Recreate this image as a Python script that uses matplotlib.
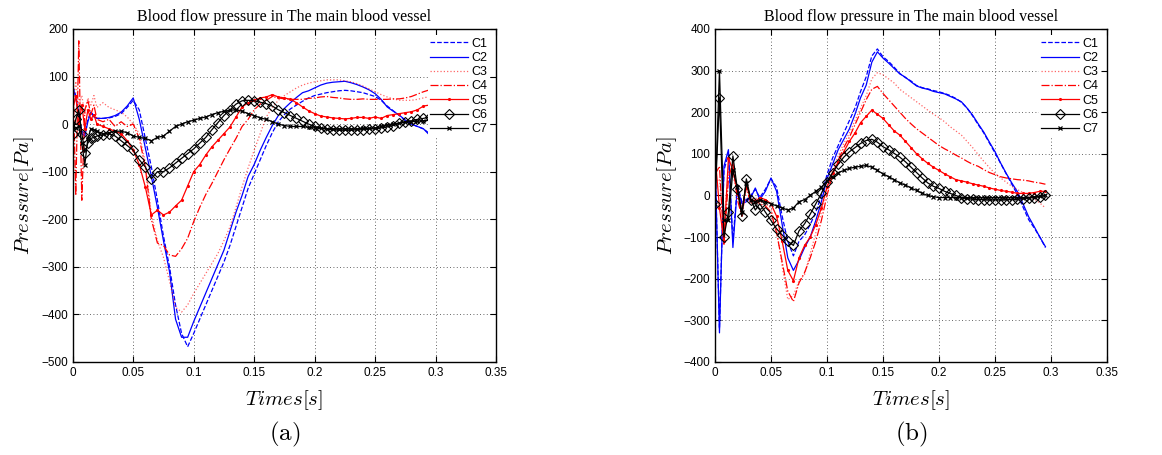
import matplotlib
matplotlib.use("Agg")
import matplotlib.pyplot as plt
import numpy as np
from matplotlib.ticker import FormatStrFormatter, MultipleLocator

# ---- panel (a) ----
t_a = np.r_[np.arange(0, 0.02, 0.0025), np.arange(0.02, 0.2951, 0.005)]

a_c1 = [80, 60, 20, -15, -20, 10, 25, 18,
        12, 12, 13, 16, 22, 35, 50, 30, -30, -90,
        -160, -235, -300, -380, -440, -468, -440, -410, -380, -350,
        -320, -290, -255, -215, -175, -135, -105, -75, -45, -18,
        5, 20, 32, 40, 48, 55, 60, 63, 66, 68,
        70, 71, 70, 68, 66, 62, 58, 50, 38, 28,
        18, 8, 0, -5, -10, -20]
a_c2 = [80, 55, 20, -20, -25, 5, 25, 15,
        12, 12, 14, 18, 25, 38, 55, 10, -50, -110,
        -175, -245, -310, -410, -448, -448, -415, -385, -355, -325,
        -295, -265, -225, -185, -150, -110, -85, -55, -28, -3,
        18, 33, 45, 56, 66, 70, 76, 82, 86, 88,
        89, 90, 87, 83, 78, 72, 64, 52, 36, 27,
        19, 8, 0, -5, -10, -23]
a_c3 = [30, 90, 40, 60, 20, 55, 40, 60,
        35, 45, 35, 30, 25, 15, 0, -20, -80, -190,
        -245, -280, -330, -385, -395, -380, -356, -335, -314, -293,
        -272, -245, -216, -175, -132, -92, -55, -20, 15, 35,
        50, 60, 68, 76, 82, 86, 89, 91, 93, 93,
        93, 91, 89, 85, 80, 74, 68, 62, 57, 53,
        50, 50, 50, 52, 55, 58]
a_c4 = [120, -150, 175, -160, 30, 50, 20, 40,
        10, 5, 10, -5, 5, -5, 0, -30, -90, -200,
        -250, -255, -275, -278, -262, -240, -205, -175, -148, -125,
        -100, -75, -52, -30, -5, 10, 30, 42, 50, 58,
        55, 53, 52, 52, 52, 54, 55, 57, 58, 56,
        55, 53, 52, 52, 53, 52, 52, 52, 52, 53,
        53, 55, 58, 63, 68, 72]
a_c5 = [30, 60, 0, 40, -10, 30, 10, 20,
        0, -5, -10, -15, -20, -35, -55, -85, -132, -191,
        -181, -191, -185, -172, -160, -130, -100, -85, -65, -48,
        -34, -20, -6, 15, 36, 45, 50, 55, 57, 62,
        57, 55, 52, 45, 36, 28, 22, 17, 15, 13,
        12, 11, 12, 14, 14, 12, 15, 12, 18, 20,
        22, 24, 26, 30, 38, 40]
a_c6 = [-20, 10, 30, -20, -60, -40, -30, -28,
        -25, -22, -20, -25, -35, -45, -55, -75, -90, -115,
        -100, -100, -92, -82, -72, -62, -52, -40, -28, -12,
        3, 18, 30, 42, 49, 50, 49, 46, 43, 38,
        30, 24, 18, 12, 6, 0, -5, -8, -10, -12,
        -13, -13, -13, -12, -12, -10, -10, -8, -6, -3,
        2, 5, 7, 10, 12, 15]
a_c7 = [-10, -8, -5, -40, -85, -30, -10, -12,
        -15, -20, -18, -15, -15, -18, -25, -28, -30, -35,
        -28, -25, -15, -5, 0, 5, 8, 12, 15, 20,
        24, 27, 29, 30, 27, 22, 18, 13, 10, 5,
        0, -3, -5, -5, -5, -7, -8, -9, -10, -10,
        -10, -10, -10, -10, -9, -9, -8, -5, -2, 0,
        2, 4, 5, 6, 7, 8]

# ---- panel (b) ----
t_b = np.r_[np.arange(0, 0.0401, 0.004), np.arange(0.045, 0.2951, 0.005)]

b_c1 = [90, -320, 60, 100, -110, 25, -15, -10, 0, 15, -5,
        15, 40, 20, -50, -110, -145, -110, -95, -70, -40,
        0, 50, 90, 120, 150, 180, 210, 250, 285, 335,
        352, 333, 322, 308, 293, 283, 275, 264, 259, 256,
        252, 249, 245, 240, 233, 224, 210, 191, 170, 150,
        126, 102, 77, 52, 27, 2, -28, -58, -78, -100,
        -125]
b_c2 = [100, -330, 70, 110, -125, 20, -20, -15, -5, 18, -10,
        10, 42, 10, -70, -150, -180, -155, -125, -100, -60,
        -15, 40, 75, 110, 135, 160, 195, 235, 265, 320,
        345, 330, 318, 305, 292, 284, 273, 263, 258, 255,
        250, 247, 244, 238, 232, 225, 210, 193, 172, 152,
        128, 105, 78, 53, 30, 9, -20, -51, -75, -100,
        -123]
b_c3 = [30, 40, -80, 60, 50, 0, -30, 20, -10, -5, -15,
        -20, -30, -80, -170, -250, -240, -205, -190, -140, -90,
        -40, 20, 60, 95, 125, 150, 180, 210, 240, 280,
        295, 290, 280, 270, 255, 245, 235, 225, 215, 205,
        195, 187, 177, 165, 155, 145, 130, 115, 98, 82,
        67, 53, 42, 32, 22, 14, 7, 0, -8, -18,
        -30]
b_c4 = [50, 70, -120, 40, 80, -10, -50, 20, -20, -10, -20,
        -25, -40, -90, -160, -230, -255, -210, -185, -150, -110,
        -60, 0, 50, 85, 115, 140, 170, 200, 230, 255,
        262, 245, 230, 215, 200, 185, 172, 160, 150, 140,
        130, 120, 112, 105, 97, 90, 82, 75, 70, 62,
        55, 50, 45, 42, 40, 38, 37, 35, 32, 30,
        27]
b_c5 = [100, -30, -110, 90, 60, 10, -40, 30, -10, -15, -5,
        -10, -20, -50, -110, -180, -205, -150, -120, -100, -70,
        -30, 20, 55, 80, 105, 130, 150, 175, 190, 205,
        195, 185, 170, 155, 145, 130, 115, 100, 88, 77,
        68, 60, 52, 45, 38, 35, 32, 28, 25, 22,
        18, 15, 12, 10, 8, 5, 5, 5, 7, 10,
        10]
b_c6 = [-20, 235, -100, -40, 95, 15, -50, 40, -10, -35, -20,
        -40, -60, -80, -95, -110, -120, -85, -68, -45, -20,
        5, 33, 55, 75, 92, 105, 115, 125, 132, 135,
        128, 117, 110, 101, 92, 81, 68, 55, 42, 30,
        22, 17, 10, 5, 0, -5, -8, -9, -10, -10,
        -11, -11, -11, -10, -10, -9, -8, -6, -5, -3,
        0]
b_c7 = [-20, 300, -60, -60, 60, 20, -40, 30, -10, -15, -10,
        -15, -20, -25, -30, -35, -30, -15, -10, 0, 10,
        20, 35, 45, 55, 60, 65, 68, 70, 72, 68,
        60, 52, 45, 38, 30, 25, 18, 12, 5, 0,
        -3, -5, -5, -5, -5, -5, -5, -5, -5, -5,
        -5, -5, -5, -5, -5, -5, -5, -5, -3, -2,
        0]

etiquetas = ["C1", "C2", "C3", "C4", "C5", "C6", "C7"]
estilos = [
    dict(color="blue", ls="--"),
    dict(color="blue", ls="-"),
    dict(color="red", ls=":", alpha=0.6),
    dict(color="red", ls="-."),
    dict(color="red", ls="-", marker=".", ms=2.5),
    dict(color="black", ls="-", marker="D", ms=5, mfc="none", mew=0.8),
    dict(color="black", ls="-", marker="x", ms=3.5, mew=0.9),
]

plt.rcParams["mathtext.fontset"] = "cm"
plt.rcParams["font.family"] = "Liberation Sans"

fig = plt.figure(figsize=(11.62, 4.55), dpi=100)
ax_a = fig.add_axes([0.0626, 0.2044, 0.3643, 0.732])
ax_b = fig.add_axes([0.6153, 0.2044, 0.3374, 0.732])


def desenha(ax, t, series, ylim, letra, xlab):
    for y, rot, est in zip(series, etiquetas, estilos):
        ax.plot(t, y, lw=0.9, label=rot, **est)
    ax.set_xlim(0, 0.35)
    ax.set_ylim(*ylim)
    ax.xaxis.set_major_locator(MultipleLocator(0.05))
    ax.yaxis.set_major_locator(MultipleLocator(100))
    ax.xaxis.set_major_formatter(FormatStrFormatter("%g"))
    ax.grid(True, ls=(0, (1, 3)), color="black", lw=0.6, alpha=0.8)
    ax.tick_params(direction="in", top=True, right=True, labelsize=8.5, length=4)
    for s in ax.spines.values():
        s.set_linewidth(1.0)
    ax.set_title("Blood flow pressure in The main blood vessel",
                 family="Liberation Serif", fontsize=11.5, pad=6)
    ax.set_xlabel(r"$Times[s]$", fontsize=15, labelpad=7)
    ax.set_ylabel(r"$Pressure[Pa]$", fontsize=15)
    ax.yaxis.set_label_coords(xlab, 0.5)
    leg = ax.legend(loc="upper right", fontsize=9, frameon=True, framealpha=1,
                    edgecolor="none", handlelength=3.0, handletextpad=0.3,
                    labelspacing=0.18, borderpad=0.2, borderaxespad=0.5)
    leg.get_frame().set_linewidth(0)
    x0 = ax.get_position()
    fig.text((x0.x0 + x0.x1) / 2, 0.045, r"$\mathrm{(%s)}$" % letra,
             ha="center", va="center", fontsize=18)


desenha(ax_a, t_a, [a_c1, a_c2, a_c3, a_c4, a_c5, a_c6, a_c7], (-500, 200), "a", -0.087)
desenha(ax_b, t_b, [b_c1, b_c2, b_c3, b_c4, b_c5, b_c6, b_c7], (-400, 400), "b", -0.092)

fig.savefig("out.png", dpi=100)
